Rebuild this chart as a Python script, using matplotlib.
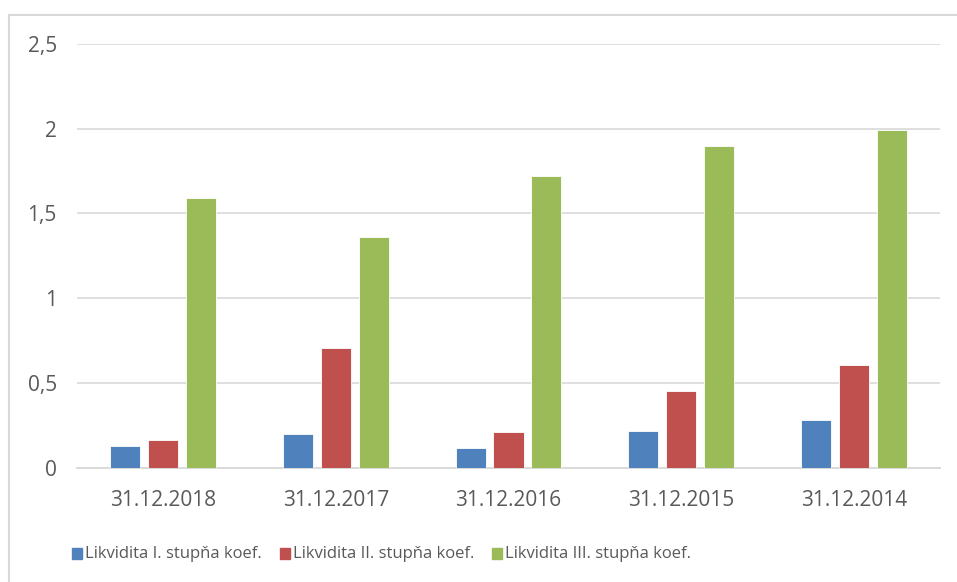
import matplotlib
matplotlib.use("Agg")
import matplotlib.pyplot as plt
import numpy as np
from matplotlib.patches import Rectangle

categories = ["31.12.2018", "31.12.2017", "31.12.2016", "31.12.2015", "31.12.2014"]
series_names = ["Likvidita I. stupňa koef.", "Likvidita II. stupňa koef.", "Likvidita III. stupňa koef."]
liq1 = [0.125, 0.196, 0.115, 0.216, 0.28]
liq2 = [0.165, 0.704, 0.208, 0.454, 0.607]
liq3 = [1.59, 1.36, 1.72, 1.90, 1.99]
yticks = [0, 0.5, 1, 1.5, 2, 2.5]
ytick_labels = ["0", "0,5", "1", "1,5", "2", "2,5"]
colors = ["#4F81BD", "#C0504D", "#9BBB59"]
text_color = "#595959"

plt.rcParams['font.family'] = ['Open Sans', 'DejaVu Sans']
fig = plt.figure(figsize=(9.57, 5.82), dpi=100)
W, H = 957, 582
ax = fig.add_axes([77/W, 1-467.5/H, (940-77)/W, (467.5-44)/H])

x = np.arange(len(categories))
bw = 0.174
step = 0.22
for i, (vals, c) in enumerate(zip([liq1, liq2, liq3], colors)):
    ax.bar(x + (i-1)*step, vals, width=bw, color=c, zorder=3,
           edgecolor='white', linewidth=0.6)

ax.set_xlim(-0.5, len(categories)-0.5)
ax.set_ylim(0, 2.5)
ax.set_yticks(yticks)
ax.set_yticklabels(ytick_labels)
ax.set_xticks(x)
ax.set_xticklabels(categories)
ax.yaxis.grid(True, color='#D9D9D9', linewidth=1.2, zorder=0)
ax.set_axisbelow(True)
for s in ['top', 'right', 'left']:
    ax.spines[s].set_visible(False)
ax.spines['bottom'].set_color('#D9D9D9')
ax.spines['bottom'].set_linewidth(1.4)
ax.tick_params(axis='both', length=0, colors=text_color, labelsize=15)
ax.tick_params(axis='y', pad=14.5)
ax.tick_params(axis='x', pad=16.5)

# ---- legend laid out left to right like the reference ----
r = fig.canvas.get_renderer()
leg_size = 12
sq_w, sq_h = 10.0, 11.0
sq_cy = 553.0
base_y = 558.5
cur = 72.0
for name, c in zip(series_names, colors):
    fig.patches.append(Rectangle((cur/W, 1-(sq_cy+sq_h/2)/H), sq_w/W, sq_h/H,
                                 transform=fig.transFigure, color=c))
    cur += sq_w + 3
    t = fig.text(cur/W, 1-base_y/H, name, fontsize=leg_size, color=text_color,
                 ha='left', va='baseline')
    cur += t.get_window_extent(r).width + 18

# outer border (chart area frame)
fig.patches.append(Rectangle((9/W, -0.01), 1.02, 1-15/H+0.01, transform=fig.transFigure,
                             fill=False, edgecolor='#D9D9D9', linewidth=1.5))

fig.savefig("out.png", dpi=100, facecolor='white')
